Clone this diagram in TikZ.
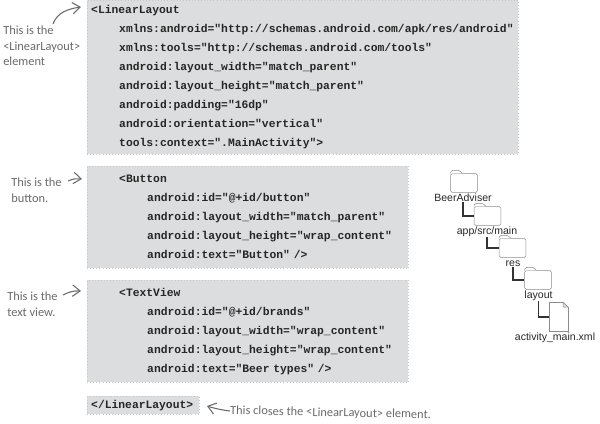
\documentclass[tikz,border=0pt]{standalone}
\usepackage{fontspec}
\setmainfont{Carlito}
\setsansfont{Liberation Sans}
\setmonofont{Liberation Mono}
\usepackage{xcolor}
\usetikzlibrary{arrows.meta,positioning}
\definecolor{codegray}{HTML}{DCDDDE}
\definecolor{pengray}{HTML}{6A6A6A}

\begin{document}
\begin{tikzpicture}[
  x=0.75pt,y=-0.75pt,
  codebox/.style={anchor=north west,fill=codegray,draw=codegray!90!black,dotted,line width=0.3pt,
                  align=left,inner xsep=3pt,inner ysep=0pt,
                  font=\ttfamily\bfseries\fontsize{8.5pt}{14.25pt}\selectfont,text=black!85},
  note/.style={anchor=west,align=left,text=pengray,inner sep=0pt,
               font=\fontsize{9.3pt}{11.8pt}\selectfont},
  penarrow/.style={-{Straight Barb[length=2mm,width=3mm]},draw=pengray,thick},
  folderbox/.style={draw=black!45,fill=white,rounded corners=1pt,minimum width=20pt,minimum height=14pt,inner sep=0pt},
  filebox/.style={draw=black!45,fill=white,minimum width=14pt,minimum height=22pt,inner sep=0pt},
  treelabel/.style={inner sep=0pt,font=\sffamily\fontsize{7.9pt}{9pt}\selectfont,text=black!85},
  treeline/.style={draw=black!80,thick}
]
\useasboundingbox (0,0) rectangle (600,424);

% code blocks
\node[codebox,text width=317.25pt,minimum height=115.5pt] (linear) at (87,0) {%
<LinearLayout\\
\hspace{21pt}xmlns:android="http://schemas.android.com/apk/res/android"\\
\hspace{21pt}xmlns:tools="http://schemas.android.com/tools"\\
\hspace{21pt}android:layout\_width="match\_parent"\\
\hspace{21pt}android:layout\_height="match\_parent"\\
\hspace{21pt}android:padding="16dp"\\
\hspace{21pt}android:orientation="vertical"\\
\hspace{21pt}tools:context=".MainActivity">};
\node[codebox,text width=234.75pt,minimum height=76.5pt] (button) at (87,166) {%
\hspace{21pt}<Button\\
\hspace{42pt}android:id="@+id/button"\\
\hspace{42pt}android:layout\_width="match\_parent"\\
\hspace{42pt}android:layout\_height="wrap\_content"\\
\hspace{42pt}android:text="Button" />};
\node[codebox,text width=234.75pt,minimum height=76.5pt] (textview) at (87,280) {%
\hspace{21pt}<TextView\\
\hspace{42pt}android:id="@+id/brands"\\
\hspace{42pt}android:layout\_width="wrap\_content"\\
\hspace{42pt}android:layout\_height="wrap\_content"\\
\hspace{42pt}android:text="Beer types" />};
\node[codebox,text width=78pt,minimum height=13.5pt] (closing) at (87,396) {</LinearLayout>};

% handwritten notes
\node[note] (notelinear) at (3,46) {This is the\\<LinearLayout>\\element};
\node[note] (notebutton) at (11,190) {This is the\\button.};
\node[note] (notetext) at (7,304) {This is the\\text view.};
\node[note,rotate=-1.2] (noteclosing) at (230,411) {This closes the <LinearLayout> element.};

\coordinate (taillinear) at (53,24);
\coordinate (tiplinear) at (81,7);
\coordinate (tailbutton) at (68,181);
\coordinate (tipbutton) at (82,179);
\coordinate (tailtext) at (63,295);
\coordinate (tiptext) at (81,291);
\coordinate (tipclosing) at (207,406);
\draw[penarrow] (taillinear) .. controls +(4,-11) and +(-14,2) .. (tiplinear);
\draw[penarrow] (tailbutton) to[bend left=15] (tipbutton);
\draw[penarrow] (tailtext) to[bend left=15] (tiptext);
\draw[penarrow] (noteclosing.west) to[bend left=5] (tipclosing);

% folder tree
\node[folderbox] (beerfolder) at (464,183) {};
\node[folderbox] (appfolder) at (487.5,216) {};
\node[folderbox] (resfolder) at (512.5,248) {};
\node[folderbox] (layoutfolder) at (538,280) {};
\node[filebox] (xmlfile) at (558.5,317) {};
\node[treelabel] (beerlabel) at (463,198) {BeerAdviser};
\node[treelabel] (applabel) at (487,232) {app/src/main};
\node[treelabel] (reslabel) at (513,264) {res};
\node[treelabel] (layoutlabel) at (538.5,296) {layout};
\node[treelabel] (xmllabel) at (555,338) {activity\_main.xml};

\foreach \fld in {beerfolder,appfolder,resfolder,layoutfolder}
  \draw[draw=black!45,fill=white,rounded corners=1pt] (\fld.north west) -- ++(1,-3) -- ++(8,0) -- ++(3,3);
\fill[white] (xmlfile.north east) ++(-5,-0.5) rectangle ++(5.5,5.5);
\draw[draw=black!45,fill=black!15] (xmlfile.north east) ++(-5,0) -- ++(5,5) -- ++(-5,0) -- cycle;

\draw[treeline] (beerlabel) |- (appfolder);
\draw[treeline] (applabel) |- (resfolder);
\draw[treeline] (reslabel) |- (layoutfolder);
\draw[treeline] (layoutlabel) |- (xmlfile);
\end{tikzpicture}
\end{document}
